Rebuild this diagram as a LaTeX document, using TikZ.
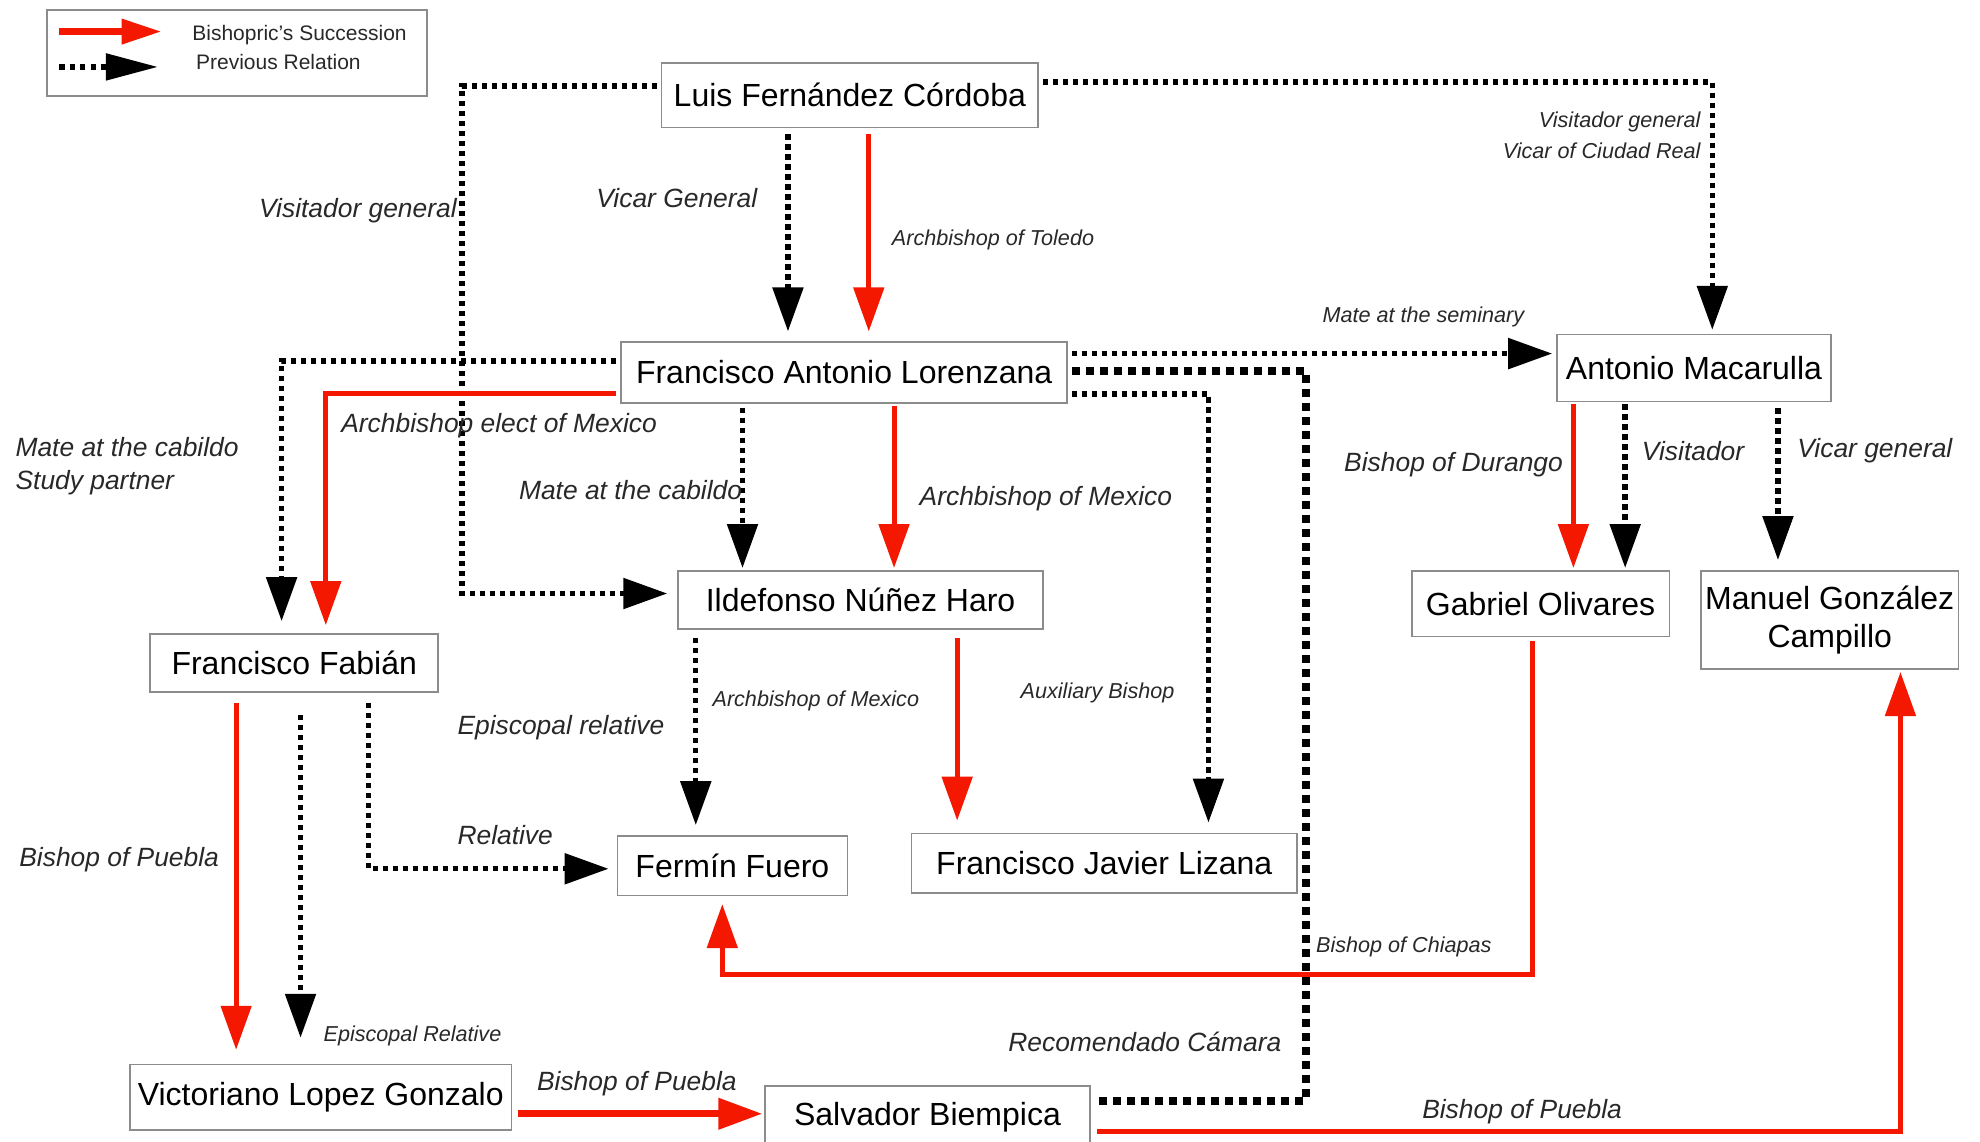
\documentclass[tikz,border=0pt]{standalone}
\usepackage{fontspec}
\setmainfont{Liberation Sans}
\usetikzlibrary{arrows.meta}

\definecolor{succred}{RGB}{245,24,0}
\definecolor{boxgray}{RGB}{140,140,140}
\definecolor{labelgray}{RGB}{40,40,40}

\tikzset{
  person/.style={draw=boxgray, line width=0.8pt, inner sep=0pt, align=center, font=\fontsize{16}{19}\selectfont},
  relation/.style={line width=2.7pt, dash pattern=on 2.6pt off 2.4pt, -{Triangle[length=22pt,width=15pt]}},
  thickrel/.style={line width=3.8pt, dash pattern=on 4pt off 3pt},
  succession/.style={draw=succred, line width=2.5pt, -{Triangle[length=22pt,width=15pt]}},
  biglabel/.style={font=\fontsize{13.2}{16}\selectfont\itshape, text=labelgray, inner sep=0pt},
  smalllabel/.style={font=\fontsize{10.8}{15.5}\selectfont\itshape, text=labelgray, inner sep=0pt},
}

\begin{document}
\begin{tikzpicture}[x=0.6314pt,y=-0.6314pt]
\useasboundingbox (0,0) rectangle (1568,904);

%Legend
\node[draw=boxgray, line width=0.8pt, minimum width=190pt, minimum height=42.9pt, inner sep=0pt] (legend) at (187.5,42) {};
\coordinate (legsuccA) at (47,25);
\coordinate (legsuccB) at (128,25);
\coordinate (legprevA) at (47,53);
\coordinate (legprevB) at (125,53);
\draw[draw=succred, line width=3.4pt, -{Triangle[length=20pt,width=12pt]}] (legsuccA) -- (legsuccB);
\draw[line width=2.6pt, dash pattern=on 2.6pt off 2.6pt, -{Triangle[length=26pt,width=13pt]}] (legprevA) -- (legprevB);
\node[anchor=west, inner sep=0pt, text=labelgray, font=\fontsize{10.5}{12}\selectfont] (legsucc) at (152,28) {Bishopric's Succession};
\node[anchor=west, inner sep=0pt, text=labelgray, font=\fontsize{10.5}{12}\selectfont] (legprev) at (155,49) {Previous Relation};

%People
\node[person, minimum width=188.2pt, minimum height=32.2pt] (luis) at (673,75.5) {Luis Fernández Córdoba};
\node[person, minimum width=222.9pt, minimum height=30.3pt] (lor) at (668.5,295) {Francisco Antonio Lorenzana};
\node[person, minimum width=137pt, minimum height=33.5pt] (mac) at (1341.5,291.5) {Antonio Macarulla};
\node[person, minimum width=144pt, minimum height=29pt] (fab) at (233,525) {Francisco Fabián};
\node[person, minimum width=182.5pt, minimum height=29pt] (ild) at (681.5,475) {Ildefonso Núñez Haro};
\node[person, minimum width=128.8pt, minimum height=32.8pt] (gab) at (1220,478) {Gabriel Olivares};
\node[person, minimum width=128.8pt, minimum height=49.2pt] (man) at (1449,491) {Manuel González\\Campillo};
\node[person, minimum width=115pt, minimum height=29.7pt] (fer) at (580,685.5) {Fermín Fuero};
\node[person, minimum width=192.6pt, minimum height=29.7pt] (liz) at (874.5,683.5) {Francisco Javier Lizana};
\node[person, minimum width=190.7pt, minimum height=32.8pt] (vic) at (254,869) {Victoriano Lopez Gonzalo};
\node[person, minimum width=162.3pt, minimum height=31.6pt] (sal) at (734.5,885) {Salvador Biempica};

%From Luis
\draw[relation, shorten <=3pt, shorten >=5pt] (luis.south -| 624,0) -- (lor.north -| 624,0);
\draw[succession, shorten <=3pt, shorten >=5pt] (luis.south -| 688,0) -- (lor.north -| 688,0);
\draw[relation, shorten <=2pt, shorten >=5pt] (luis.west |- 0,68) -- (366,68) -- (366,470) -- (ild.west |- 0,470);
\draw[relation, shorten <=2pt, shorten >=2pt] (luis.east |- 0,65) -| (mac.north -| 1356,0);

%From Lorenzana
\draw[relation, shorten <=2pt, shorten >=6pt] (lor.west |- 0,286) -| (fab.north -| 223,0);
\draw[succession, shorten <=2pt, shorten >=4pt] (lor.west |- 0,312) -| (fab.north -| 258,0);
\draw[relation, shorten <=2pt, shorten >=1pt] (lor.south -| 588,0) -- (ild.north -| 588,0);
\draw[succession, shorten <=1pt, shorten >=1pt] (lor.south -| 708,0) -- (ild.north -| 708,0);
\draw[relation, shorten <=2pt, shorten >=2pt] (lor.east |- 0,280) -- (mac.west |- 0,280);
\draw[relation, shorten <=2pt, shorten >=5pt] (lor.east |- 0,312) -| (liz.north -| 957,0);
\draw[thickrel, shorten <=2pt, shorten >=2pt] (lor.east |- 0,294) -| (1034,872) -- (sal.east |- 0,872);

%From Macarulla
\draw[succession, shorten <=1pt, shorten >=1pt] (mac.south -| 1246,0) -- (gab.north -| 1246,0);
\draw[relation, shorten <=1pt, shorten >=1pt] (mac.south -| 1287,0) -- (gab.north -| 1287,0);
\draw[relation, shorten <=3pt, shorten >=5pt] (mac.south -| 1408,0) -- (man.north -| 1408,0);

%From Fabian
\draw[succession, shorten <=5pt, shorten >=7pt] (fab.south -| 187,0) -- (vic.north -| 187,0);
\draw[relation, shorten <=11pt, shorten >=13pt] (fab.south -| 238,0) -- (vic.north -| 238,0);
\draw[relation, shorten <=5pt, shorten >=4pt] (fab.south -| 292,0) |- (fer.west |- 0,688);

%From Ildefonso
\draw[relation, shorten <=4pt, shorten >=5pt] (ild.south -| 551,0) -- (fer.north -| 551,0);
\draw[succession, shorten <=4pt, shorten >=6pt] (ild.south -| 758,0) -- (liz.north -| 758,0);

%Lower successions
\draw[succession, shorten <=2pt, shorten >=4pt] (gab.south -| 1214,0) -- (1214,772) -| (fer.south -| 572,0);
\draw[succession, line width=3.6pt, shorten <=3pt, shorten >=1pt] (vic.east |- 0,882) -- (sal.west |- 0,882);
\draw[succession, shorten <=3pt, shorten >=1pt] (sal.east |- 0,896) -| (man.south -| 1505,0);

% Text Node
\node[biglabel, anchor=east] (vicarA) at (600,157) {Vicar General};
\node[smalllabel, anchor=west] (toledo) at (706,190) {Archbishop of Toledo};
\node[biglabel, anchor=east] (visitA) at (362,167) {Visitador general};
\node[smalllabel, anchor=east, align=right] (visitB) at (1347,107) {Visitador general\\Vicar of Ciudad Real};
\node[smalllabel, anchor=west] (seminary) at (1047,251) {Mate at the seminary};
\node[biglabel, anchor=west, align=left, font=\fontsize{13.2}{16.4}\selectfont\itshape] (cabildoA) at (12,369) {Mate at the cabildo\\Study partner};
\node[biglabel, anchor=west] (electmex) at (270,337) {Archbishop elect of Mexico};
\node[biglabel, anchor=east] (cabildoB) at (588,388) {Mate at the cabildo};
\node[biglabel, anchor=west] (archmexA) at (728,395) {Archbishop of Mexico};
\node[biglabel, anchor=east] (durango) at (1238,368) {Bishop of Durango};
\node[biglabel, anchor=west] (visitC) at (1300,357) {Visitador};
\node[biglabel, anchor=west] (vicarB) at (1423,357) {Vicar general};
\node[smalllabel, anchor=west] (archmexB) at (564,555) {Archbishop of Mexico};
\node[smalllabel, anchor=west] (auxiliary) at (808,549) {Auxiliary Bishop};
\node[biglabel, anchor=west] (episcA) at (362,576) {Episcopal relative};
\node[biglabel, anchor=west] (relative) at (362,661) {Relative};
\node[biglabel, anchor=west] (pueblaA) at (15,681) {Bishop of Puebla};
\node[smalllabel, anchor=west] (chiapas) at (1042,750) {Bishop of Chiapas};
\node[smalllabel, anchor=west] (episcB) at (256,820) {Episcopal Relative};
\node[biglabel, anchor=east] (camara) at (1015,825) {Recomendado Cámara};
\node[biglabel, anchor=west] (pueblaB) at (425,858) {Bishop of Puebla};
\node[biglabel, anchor=west] (pueblaC) at (1126,880) {Bishop of Puebla};
\end{tikzpicture}
\end{document}
